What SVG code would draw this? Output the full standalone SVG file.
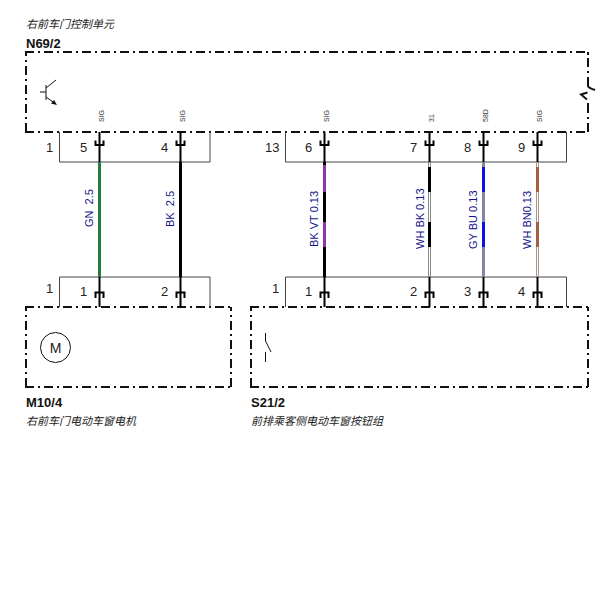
<svg xmlns="http://www.w3.org/2000/svg" width="608" height="600" viewBox="0 0 608 600">
<style>
text{font-family:"Liberation Sans","Noto Sans CJK SC",sans-serif;fill:#222}
.t{font-size:11px;font-style:italic}
.b{font-size:13px;font-weight:bold;fill:#111}
.n{font-size:13px}
.p{font-size:7px;fill:#333}
.w{font-size:11px;fill:#12128a;white-space:pre}
.box{fill:none;stroke:#111;stroke-width:2;stroke-dasharray:9 4 2 4}
.edge{fill:none;stroke:#111;stroke-width:2}
.c{fill:none;stroke:#444;stroke-width:1}
.pin{fill:none;stroke:#000;stroke-width:2}
.s{fill:none;stroke:#111;stroke-width:1}
</style>
<defs>
<g id="ft"><path class="pin" d="M0 0V30M-4 8.500V13H4V8.500"/></g>
<g id="fb"><path class="pin" d="M0 0V30M-4 21V15.500H4V21"/></g>
</defs>
<g id="N69-2">
<path class="box" d="M25 52H589"/>
<path class="box" d="M25 132H589"/>
<path class="box" d="M26 132V52"/>
<path class="edge" d="M588 52V55M588 58V67M588 71V73M588 77V86Q588.500 88 595 90M587.500 92.500L581 94.500L587 99.500M588 103V113M588 117V119M588 123V132"/>
<path class="s" d="M40 92H46M46 85V100M46 88L56 80M46 97L56 104"/>
<path d="M57 105L51 103.500L54 100Z" fill="#111"/>
<text class="t" x="26" y="28">右前车门控制单元</text>
<text class="b" x="26" y="48">N69/2</text>
<text class="p" transform="translate(104 122) rotate(-90)">SIG</text>
<text class="p" transform="translate(185 122) rotate(-90)">SIG</text>
<text class="p" transform="translate(329 122) rotate(-90)">SIG</text>
<text class="p" transform="translate(434 122) rotate(-90)">31</text>
<text class="p" transform="translate(488 122) rotate(-90)">58D</text>
<text class="p" transform="translate(542 122) rotate(-90)">SIG</text>
</g>
<g id="M10-4">
<path class="box" d="M25 307H232"/>
<path class="box" d="M25 387H232"/>
<path class="box" d="M26 387V307"/>
<path class="box" d="M231 387V307"/>
<circle cx="55.500" cy="347.500" r="15" fill="none" stroke="#111"/>
<text x="55.500" y="352.500" text-anchor="middle" font-size="14">M</text>
<text class="b" x="26" y="407">M10/4</text>
<text class="t" x="26" y="425">右前车门电动车窗电机</text>
</g>
<g id="S21-2">
<path class="box" d="M250 307H589"/>
<path class="box" d="M250 387H589"/>
<path class="box" d="M251 387V307"/>
<path class="box" d="M588 387V307"/>
<path class="s" d="M265.500 333V341L271 352M265.500 352V362"/>
<text class="b" x="251" y="407">S21/2</text>
<text class="t" x="251" y="425">前排乘客侧电动车窗按钮组</text>
</g>
<g id="connector-top-left">
<path class="c" d="M59.500 132V162H210V132"/>
<text class="n" x="46" y="152">1</text><text class="n" x="80" y="152">5</text><text class="n" x="161" y="152">4</text>
</g>
<g id="connector-top-right">
<path class="c" d="M285.500 132V162H566.500V132"/>
<text class="n" x="265" y="152">13</text><text class="n" x="305" y="152">6</text><text class="n" x="410" y="152">7</text><text class="n" x="464" y="152">8</text><text class="n" x="518" y="152">9</text>
</g>
<g id="connector-bottom-left">
<path class="c" d="M59.500 307V277H210V307"/>
<text class="n" x="46" y="293">1</text><text class="n" x="80" y="296">1</text><text class="n" x="161" y="296">2</text>
</g>
<g id="connector-bottom-right">
<path class="c" d="M285.500 307V277H566.500V307"/>
<text class="n" x="272" y="293">1</text><text class="n" x="305" y="296">1</text><text class="n" x="410" y="296">2</text><text class="n" x="464" y="296">3</text><text class="n" x="518" y="296">4</text>
</g>
<g id="connectors">
<use href="#ft" x="99.500" y="132"/><use href="#ft" x="180.500" y="132"/><use href="#ft" x="324.500" y="132"/><use href="#ft" x="429.500" y="132"/><use href="#ft" x="483.500" y="132"/><use href="#ft" x="537.500" y="132"/>
<use href="#fb" x="99.500" y="277"/><use href="#fb" x="180.500" y="277"/><use href="#fb" x="324.500" y="277"/><use href="#fb" x="429.500" y="277"/><use href="#fb" x="483.500" y="277"/><use href="#fb" x="537.500" y="277"/>
<rect x="98" y="162" width="3" height="115" fill="#2b7a3b"/>
<rect x="179" y="162" width="3" height="115" fill="#000"/>
<rect x="323" y="162" width="3" height="115" fill="#000"/>
<rect x="323" y="165" width="3" height="27" fill="#8e35a8"/><rect x="323" y="222" width="3" height="25" fill="#8e35a8"/>
<rect x="428.500" y="162.500" width="2" height="114" fill="#fff" stroke="#888" stroke-width="1"/>
<rect x="428" y="167" width="3" height="25" fill="#000"/><rect x="428" y="222" width="3" height="25" fill="#000"/>
<rect x="482" y="162" width="3" height="115" fill="#8585a5"/>
<rect x="482" y="167" width="3" height="25" fill="#0a14e0"/><rect x="482" y="222" width="3" height="25" fill="#0a14e0"/>
<rect x="536.500" y="162.500" width="2" height="114" fill="#fff" stroke="#a89488" stroke-width="1"/>
<rect x="536" y="167" width="3" height="25" fill="#a5603f"/><rect x="536" y="222" width="3" height="25" fill="#a5603f"/>
<text class="w" transform="translate(93 227) rotate(-90)">GN  2.5</text>
<text class="w" transform="translate(174 227) rotate(-90)">BK  2.5</text>
<text class="w" transform="translate(318 247) rotate(-90)">BK VT 0.13</text>
<text class="w" transform="translate(424 249) rotate(-90)">WH BK 0.13</text>
<text class="w" transform="translate(477 249) rotate(-90)">GY BU 0.13</text>
<text class="w" transform="translate(531 249) rotate(-90)">WH BN0.13</text>
</g>
</svg>
